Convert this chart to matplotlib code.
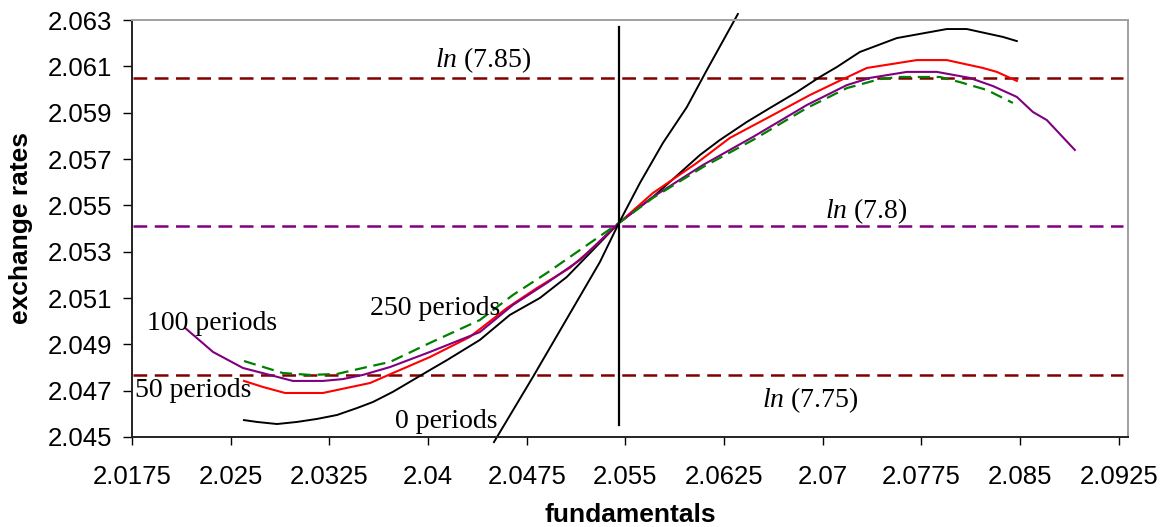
import numpy as np
import matplotlib
matplotlib.use("Agg")
import matplotlib.pyplot as plt

plt.rcParams['mathtext.fontset'] = 'custom'
plt.rcParams['mathtext.it'] = 'Liberation Serif:italic'
plt.rcParams['mathtext.rm'] = 'Liberation Serif'

# ---- data ----
# black S-shaped curve
blk_x = [2.02601, 2.02700, 2.02852, 2.03004, 2.03156, 2.03308, 2.03460, 2.03581, 2.03733,
         2.04014, 2.04144, 2.04394, 2.04622, 2.04850, 2.05055, 2.05253, 2.05451, 2.05709,
         2.05838, 2.06066, 2.06218, 2.06423, 2.06598, 2.06803, 2.06978, 2.07107, 2.07282,
         2.07563, 2.07943, 2.08095, 2.08369, 2.08475]
blk_y = [2.04573, 2.04565, 2.04556, 2.04565, 2.04578, 2.04595, 2.04625, 2.04651, 2.04695,
         2.04789, 2.04832, 2.04919, 2.05027, 2.05100, 2.05191, 2.05307, 2.05424, 2.05536,
         2.05601, 2.05717, 2.05782, 2.05860, 2.05920, 2.05989, 2.06054, 2.06097, 2.06162,
         2.06222, 2.06261, 2.06261, 2.06227, 2.06209]

# 50 periods (red)
red_x = [2.02601, 2.02745, 2.02913, 2.03201, 2.03384, 2.03559, 2.03733, 2.04014, 2.04318,
         2.04600, 2.04827, 2.05078, 2.05253, 2.05451, 2.05709, 2.06043, 2.06294, 2.06621,
         2.06902, 2.07107, 2.07335, 2.07715, 2.07943, 2.08217, 2.08323, 2.08475]
red_y = [2.04742, 2.04716, 2.04690, 2.04690, 2.04712, 2.04733, 2.04776, 2.04845, 2.04932,
         2.05057, 2.05143, 2.05230, 2.05316, 2.05424, 2.05553, 2.05683, 2.05791, 2.05890,
         2.05976, 2.06032, 2.06093, 2.06127, 2.06127, 2.06093, 2.06076, 2.06037]

# 100 periods (purple)
pur_x = [2.02153, 2.02366, 2.02593, 2.02973, 2.03201, 2.03353, 2.03505, 2.03711, 2.04014,
         2.04394, 2.04645, 2.04903, 2.05154, 2.05451, 2.05709, 2.06089, 2.06469, 2.06879,
         2.07183, 2.07358, 2.07639, 2.07867, 2.08118, 2.08293, 2.08475, 2.08597, 2.08703,
         2.08916]
pur_y = [2.04971, 2.04867, 2.04798, 2.04742, 2.04742, 2.04750, 2.04768, 2.04802, 2.04867,
         2.04953, 2.05070, 2.05165, 2.05264, 2.05424, 2.05536, 2.05674, 2.05795, 2.05933,
         2.06019, 2.06050, 2.06076, 2.06076, 2.06050, 2.06015, 2.05968, 2.05903, 2.05868,
         2.05739]

# 250 periods (green dashed)
grn_x = [2.02601, 2.02897, 2.03103, 2.03308, 2.03505, 2.03711, 2.04014, 2.04394, 2.04645,
         2.04903, 2.05154, 2.05451, 2.05709, 2.06089, 2.06469, 2.06879, 2.07183, 2.07434,
         2.07586, 2.07890, 2.08042, 2.08247, 2.08445]
grn_y = [2.04828, 2.04776, 2.04768, 2.04772, 2.04798, 2.04824, 2.04906, 2.05005, 2.05113,
         2.05208, 2.05307, 2.05424, 2.05532, 2.05665, 2.05782, 2.05920, 2.06006, 2.06045,
         2.06054, 2.06054, 2.06032, 2.05998, 2.05942]

# 0 periods (steep black line)
zero_x = [2.04501, 2.04797, 2.05306, 2.05451, 2.05610, 2.05785, 2.05967, 2.06119, 2.06355]
zero_y = [2.04478, 2.04759, 2.05255, 2.05424, 2.05596, 2.05769, 2.05924, 2.06084, 2.06326]

# reference levels
ln_levels = [2.06051, 2.05412, 2.04769]
ln_colors = ["#800000", "#800080", "#800000"]
ln_labels = ["$ln$ (7.85)", "$ln$ (7.8)", "$ln$ (7.75)"]
ln_label_pos = [(2.04052, 2.06097), (2.07016, 2.05445), (2.06537, 2.04630)]

vert_x = 2.0545
vert_y = [2.04552, 2.0627]

period_labels = ["100 periods", "50 periods", "250 periods", "0 periods"]
period_pos = [(2.01864, 2.04962), (2.01773, 2.04673), (2.03559, 2.05027), (2.03748, 2.04539)]

xticks = [2.0175, 2.025, 2.0325, 2.04, 2.0475, 2.055, 2.0625, 2.07, 2.0775, 2.085, 2.0925]
xtick_labels = ["2.0175", "2.025", "2.0325", "2.04", "2.0475", "2.055", "2.0625", "2.07",
                "2.0775", "2.085", "2.0925"]
yticks = [2.045, 2.047, 2.049, 2.051, 2.053, 2.055, 2.057, 2.059, 2.061, 2.063]

# ---- figure ----
fig = plt.figure(figsize=(11.62, 5.27), dpi=100)
ax = fig.add_axes([132 / 1162, (527 - 437) / 527, (1128 - 132) / 1162, (437 - 20) / 527])

dash = (5.5, 3.0)
for lvl, col in zip(ln_levels, ln_colors):
    ax.plot([2.0176, 2.0928], [lvl, lvl], color=col, lw=1.8, dashes=dash)

ax.plot([vert_x, vert_x], vert_y, color="black", lw=1.6)

ax.plot(blk_x, blk_y, color="black", lw=1.4)
ax.plot(red_x, red_y, color="#FF0000", lw=1.5)
ax.plot(pur_x, pur_y, color="#800080", lw=1.5)
ax.plot(grn_x, grn_y, color="#008000", lw=1.6, dashes=dash)
ax.plot(zero_x, zero_y, color="black", lw=1.4, clip_on=False)

for txt, (tx, ty) in zip(ln_labels, ln_label_pos):
    ax.text(tx, ty, txt, fontsize=20, family="Liberation Serif", ha="left", va="baseline")
for txt, (tx, ty) in zip(period_labels, period_pos):
    ax.text(tx, ty, txt, fontsize=20, family="Liberation Serif", ha="left", va="baseline")

ax.set_xlim(2.0175, 2.0932)
ax.set_ylim(2.045, 2.063)
ax.set_xticks(xticks)
ax.set_xticklabels(xtick_labels)
ax.set_yticks(yticks)
ax.set_yticklabels([f"{v:.3f}" for v in yticks])

for lab in ax.get_xticklabels() + ax.get_yticklabels():
    lab.set_family("Liberation Sans")
    lab.set_fontsize(18.5)
ax.tick_params(axis="x", length=6, width=1, pad=14, direction="out")
ax.tick_params(axis="y", length=6.5, width=1, pad=8, direction="out")

ax.spines["left"].set_color("#222222")
ax.spines["bottom"].set_color("#222222")
ax.spines["left"].set_linewidth(1.4)
ax.spines["bottom"].set_linewidth(1.4)
ax.spines["top"].set_color("#a0a0a0")
ax.spines["right"].set_color("#a0a0a0")
ax.spines["top"].set_linewidth(1.4)
ax.spines["right"].set_linewidth(1.4)

fig.text(630 / 1162, 1 - 515 / 527, "fundamentals", family="Liberation Sans",
         fontweight="bold", fontsize=19, ha="center", va="center")
fig.text(21 / 1162, 1 - 228 / 527, "exchange rates", family="Liberation Sans",
         fontweight="bold", fontsize=19, ha="center", va="center", rotation=90)

fig.savefig("out.png", dpi=100)
